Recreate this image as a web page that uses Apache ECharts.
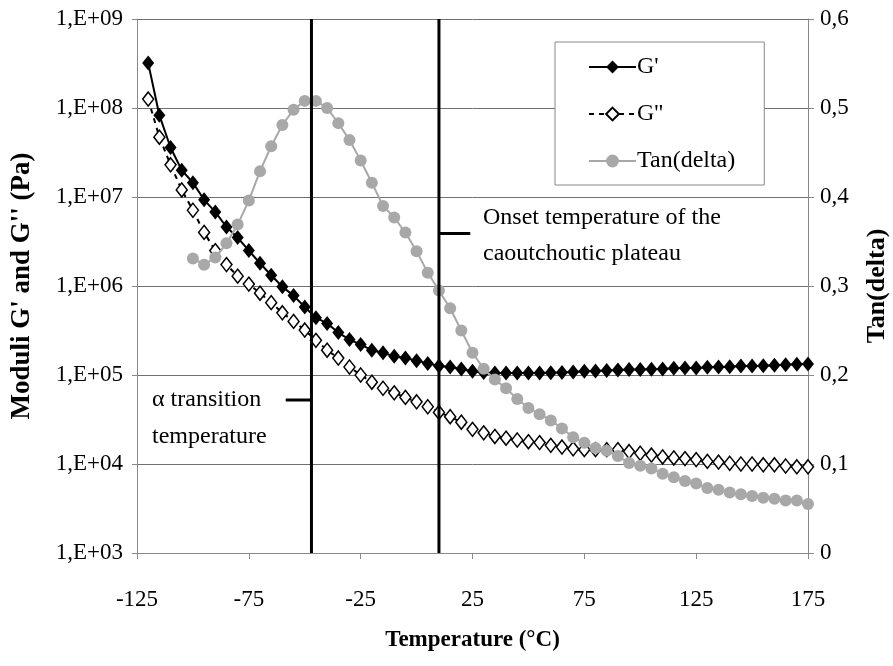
<!DOCTYPE html>
<html>
<head>
<meta charset="utf-8">
<script src="https://cdn.jsdelivr.net/npm/echarts@6/dist/echarts.min.js"></script>
<style>
  html, body { margin: 0; padding: 0; background: #fff; }
  #chart { width: 893px; height: 666px; }
</style>
</head>
<body>
<div id="chart"></div>
<script>
// temperatures (°C), one point every 5 degrees
const tempModuli = [];
for (let t = -120; t <= 175; t += 5) tempModuli.push(t);
const tempTan = [];
for (let t = -100; t <= 175; t += 5) tempTan.push(t);

// G' storage modulus (Pa)
const gPrime = [
  3.2e8, 8.3e7, 3.6e7, 2.0e7, 1.45e7, 9.3e6, 6.8e6, 4.6e6, 3.5e6, 2.5e6,
  1.8e6, 1.32e6, 9.8e5, 7.8e5, 5.8e5, 4.4e5, 3.8e5, 3.0e5, 2.5e5, 2.2e5,
  1.9e5, 1.78e5, 1.62e5, 1.55e5, 1.45e5, 1.35e5, 1.26e5, 1.23e5, 1.17e5, 1.10e5,
  1.07e5, 1.05e5, 1.05e5, 1.05e5, 1.05e5, 1.05e5, 1.06e5, 1.07e5, 1.08e5, 1.10e5,
  1.11e5, 1.12e5, 1.14e5, 1.15e5, 1.15e5, 1.16e5, 1.17e5, 1.19e5, 1.20e5, 1.20e5,
  1.22e5, 1.23e5, 1.24e5, 1.26e5, 1.26e5, 1.27e5, 1.29e5, 1.30e5, 1.32e5, 1.33e5
];

// G'' loss modulus (Pa)
const gSecond = [
  1.26e8, 4.7e7, 2.3e7, 1.2e7, 7.1e6, 4.0e6, 2.5e6, 1.74e6, 1.29e6, 1.05e6,
  8.3e5, 6.5e5, 5.0e5, 4.0e5, 3.2e5, 2.45e5, 1.9e5, 1.55e5, 1.23e5, 1.0e5,
  8.3e4, 7.1e4, 6.3e4, 5.6e4, 5.0e4, 4.4e4, 3.8e4, 3.4e4, 2.95e4, 2.45e4,
  2.24e4, 2.04e4, 1.95e4, 1.86e4, 1.78e4, 1.74e4, 1.62e4, 1.55e4, 1.48e4, 1.45e4,
  1.45e4, 1.45e4, 1.45e4, 1.38e4, 1.32e4, 1.26e4, 1.20e4, 1.17e4, 1.15e4, 1.12e4,
  1.07e4, 1.05e4, 1.02e4, 1.0e4, 1.0e4, 9.8e3, 9.8e3, 9.5e3, 9.3e3, 9.3e3
];

// Tan(delta)
const tanDelta = [
  0.331, 0.324, 0.332, 0.348, 0.369, 0.396, 0.429, 0.457, 0.481, 0.498,
  0.508, 0.508, 0.500, 0.483, 0.464, 0.441, 0.416, 0.390, 0.377, 0.360,
  0.339, 0.315, 0.295, 0.275, 0.250, 0.225, 0.207, 0.195, 0.185, 0.173,
  0.163, 0.156, 0.149, 0.140, 0.130, 0.124, 0.118, 0.115, 0.109, 0.101,
  0.098, 0.095, 0.089, 0.085, 0.081, 0.078, 0.073, 0.071, 0.068, 0.066,
  0.064, 0.062, 0.061, 0.059, 0.059, 0.055
];

// marker lines (°C) and their small pointer dashes
const alphaTemp = -47;
const onsetTemp = 10;
const alphaDash = [[-58.5, 0.172], [-47, 0.172]];
const onsetDash = [[10, 0.359], [24, 0.359]];

const serif = '"Liberation Serif", "Times New Roman", serif';
const pair = (xs, ys) => ys.map((v, i) => [xs[i], v]);

const chart = echarts.init(document.getElementById('chart'));
const option = {
  backgroundColor: '#fff',
  animation: false,
  textStyle: { fontFamily: serif, color: '#000' },
  grid: { left: 137, right: 85, top: 19, bottom: 113, outerBoundsMode: 'none', containLabel: false },
  legend: {
    orient: 'vertical',
    left: 555,
    top: 42,
    padding: [13, 29, 12, 33],
    itemWidth: 47,
    itemHeight: 16,
    itemGap: 23,
    backgroundColor: '#fff',
    borderColor: '#888',
    borderWidth: 1,
    textStyle: { fontFamily: serif, fontSize: 24, color: '#000', padding: [0, 0, 0, -4] },
    data: ["G'", "G''", 'Tan(delta)']
  },
  xAxis: {
    type: 'value',
    min: -125,
    max: 175,
    interval: 50,
    name: 'Temperature (°C)',
    nameLocation: 'middle',
    nameGap: 76,
    nameTextStyle: { fontFamily: serif, fontSize: 23, fontWeight: 'bold', color: '#000' },
    axisLine: { onZero: false, lineStyle: { color: '#888', width: 1 } },
    axisTick: { show: true, length: 6, lineStyle: { color: '#888' } },
    axisLabel: { margin: 35, fontSize: 23, color: '#000', fontFamily: serif },
    splitLine: { show: false }
  },
  yAxis: [
    {
      type: 'log',
      logBase: 10,
      min: 1e3,
      max: 1e9,
      name: "Moduli G' and G'' (Pa)",
      nameLocation: 'middle',
      nameGap: 101,
      nameRotate: 90,
      nameTextStyle: { fontFamily: serif, fontSize: 27, fontWeight: 'bold', color: '#000' },
      axisLine: { show: true, onZero: false, lineStyle: { color: '#888', width: 1 } },
      axisTick: { show: true, length: 5, lineStyle: { color: '#888' } },
      axisLabel: {
        margin: 14, fontSize: 23, color: '#000', fontFamily: serif,
        formatter: v => '1,E+' + String(Math.round(Math.log10(v))).padStart(2, '0')
      },
      splitLine: { show: true, lineStyle: { color: '#707070', width: 1 } }
    },
    {
      type: 'value',
      min: 0,
      max: 0.6,
      interval: 0.1,
      position: 'right',
      name: 'Tan(delta)',
      nameLocation: 'middle',
      nameGap: 56,
      nameRotate: 90,
      nameTextStyle: { fontFamily: serif, fontSize: 26, fontWeight: 'bold', color: '#000' },
      axisLine: { show: true, onZero: false, lineStyle: { color: '#888', width: 1 } },
      axisTick: { show: true, length: 6, lineStyle: { color: '#888' } },
      axisLabel: {
        margin: 12, fontSize: 23, color: '#000', fontFamily: serif,
        formatter: v => v === 0 ? '0' : v.toFixed(1).replace('.', ',')
      },
      splitLine: { show: false }
    }
  ],
  graphic: [
    {
      type: 'text', left: 152, top: 381,
      style: { text: 'α transition\ntemperature', font: '24px ' + serif, fill: '#000', lineHeight: 37 }
    },
    {
      type: 'text', left: 483, top: 200,
      style: { text: 'Onset temperature of the\ncaoutchoutic plateau', font: '24px ' + serif, fill: '#000', lineHeight: 36 }
    }
  ],
  series: [
    {
      name: "G'",
      type: 'line',
      data: pair(tempModuli, gPrime),
      yAxisIndex: 0,
      symbol: 'diamond',
      symbolSize: [12, 15],
      itemStyle: { color: '#000' },
      lineStyle: { color: '#000', width: 2 },
      z: 3
    },
    {
      name: "G''",
      type: 'line',
      data: pair(tempModuli, gSecond),
      yAxisIndex: 0,
      symbol: 'diamond',
      symbolSize: [11, 14],
      itemStyle: { color: '#fff', borderColor: '#000', borderWidth: 1.5 },
      lineStyle: { color: '#000', width: 2, type: [5, 5] },
      z: 2
    },
    {
      name: 'Tan(delta)',
      type: 'line',
      data: pair(tempTan, tanDelta),
      yAxisIndex: 1,
      symbol: 'circle',
      symbolSize: 12,
      itemStyle: { color: '#a8a8a8' },
      lineStyle: { color: '#a8a8a8', width: 2 },
      z: 4
    },
    {
      name: 'alpha line',
      type: 'line',
      yAxisIndex: 1,
      data: [[alphaTemp, 0], [alphaTemp, 0.6]],
      symbol: 'none',
      lineStyle: { color: '#000', width: 3 },
      z: 5
    },
    {
      name: 'onset line',
      type: 'line',
      yAxisIndex: 1,
      data: [[onsetTemp, 0], [onsetTemp, 0.6]],
      symbol: 'none',
      lineStyle: { color: '#000', width: 3 },
      z: 5
    },
    {
      name: 'alpha dash',
      type: 'line',
      yAxisIndex: 1,
      data: alphaDash,
      symbol: 'none',
      lineStyle: { color: '#000', width: 3 },
      z: 5
    },
    {
      name: 'onset dash',
      type: 'line',
      yAxisIndex: 1,
      data: onsetDash,
      symbol: 'none',
      lineStyle: { color: '#000', width: 3 },
      z: 5
    }
  ]
};
chart.setOption(option);
</script>
</body>
</html>
